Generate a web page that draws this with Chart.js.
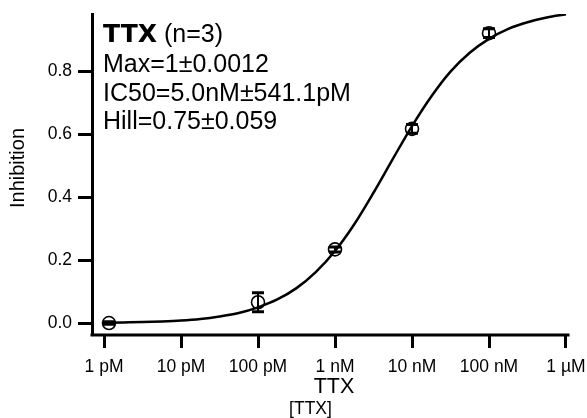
<!DOCTYPE html>
<html>
<head>
<meta charset="utf-8">
<script src="https://cdn.jsdelivr.net/npm/chart.js@4.4.1/dist/chart.umd.min.js"></script>
<style>
  html, body { margin: 0; padding: 0; background: #fff; }
  #wrap { width: 587px; height: 418px; position: relative; }
</style>
</head>
<body>
<div id="wrap"><canvas id="doseChart"></canvas></div>
<script>
// ===== DATA =====
const xTickValues = [1e-12, 1e-11, 1e-10, 1e-9, 1e-8, 1e-7, 1e-6];
const xTickLabels = ["1 pM", "10 pM", "100 pM", "1 nM", "10 nM", "100 nM", "1 \u00b5M"];
const yTickValues = [0, 0.2, 0.4, 0.6, 0.8];

// measured points (mean +/- error)
const doseConc = [1.16e-12, 1e-10, 1e-9, 1e-8, 1e-7];
const meanInhibition = [0.001, 0.067, 0.235, 0.618, 0.922];
const errInhibition = [0.004, 0.03, 0.008, 0.014, 0.014];

// fitted curve, every quarter decade
const fitConc = [
  1e-12, 1.78e-12, 3.16e-12, 5.62e-12,
  1e-11, 1.78e-11, 3.16e-11, 5.62e-11,
  1e-10, 1.78e-10, 3.16e-10, 5.62e-10,
  1e-9, 1.78e-9, 3.16e-9, 5.62e-9,
  1e-8, 1.78e-8, 3.16e-8, 5.62e-8,
  1e-7, 1.78e-7, 3.16e-7, 5.62e-7,
  1e-6
];
const fitInhibition = [
  0.002, 0.003, 0.004, 0.006,
  0.009, 0.014, 0.022, 0.033,
  0.051, 0.076, 0.112, 0.163,
  0.230, 0.315, 0.415, 0.522,
  0.627, 0.721, 0.800, 0.860,
  0.904, 0.936, 0.957, 0.972,
  0.982
];

const yTitle = "Inhibition";
const xTitle = "TTX";
const xSubTitle = "[TTX]";
const boxTitle = "TTX";
const boxTitleRest = " (n=3)";
const boxLines = ["Max=1\u00b10.0012", "IC50=5.0nM\u00b1541.1pM", "Hill=0.75\u00b10.059"];

const FONT = "'Liberation Sans', Arial, sans-serif";

// ===== ERROR BARS + X AXIS LINE =====
const errorBars = {
  id: "errorBars",
  afterDatasetsDraw(chart) {
    const ctx = chart.ctx;
    const xs = chart.scales.x, ys = chart.scales.y;
    ctx.save();
    ctx.strokeStyle = "#000";
    doseConc.forEach((c, i) => {
      const px = xs.getPixelForValue(c);
      const top = ys.getPixelForValue(meanInhibition[i] + errInhibition[i]);
      const bot = ys.getPixelForValue(meanInhibition[i] - errInhibition[i]);
      ctx.lineWidth = 2;
      ctx.beginPath();
      ctx.moveTo(px, top);
      ctx.lineTo(px, bot);
      ctx.stroke();
      ctx.lineWidth = 3;
      ctx.beginPath();
      ctx.moveTo(px - 6, top); ctx.lineTo(px + 6, top);
      ctx.moveTo(px - 6, bot); ctx.lineTo(px + 6, bot);
      ctx.stroke();
    });
    // bottom axis line, only as long as the scale
    const yb = ys.getPixelForValue(ys.min);
    ctx.lineWidth = 3;
    ctx.beginPath();
    ctx.moveTo(xs.getPixelForValue(xs.min) - 1.5, yb);
    ctx.lineTo(xs.getPixelForValue(xs.max) + 1.5, yb);
    ctx.stroke();
    ctx.restore();
  }
};

// ===== TEXT (titles + fit results) =====
const texts = {
  id: "texts",
  afterDraw(chart) {
    const ctx = chart.ctx;
    const a = chart.chartArea;
    ctx.save();
    ctx.fillStyle = "#000";
    ctx.textBaseline = "alphabetic";
    ctx.textAlign = "left";
    const tx = a.left + 11;
    ctx.font = "bold 25px 'DejaVu Sans', sans-serif";
    ctx.fillText(boxTitle, tx, 42);
    const w = ctx.measureText(boxTitle).width;
    ctx.font = "25px " + FONT;
    ctx.fillText(boxTitleRest, tx + w, 42);
    boxLines.forEach((s, i) => ctx.fillText(s, tx, 72 + i * 28.7));

    ctx.textAlign = "center";
    ctx.textBaseline = "middle";
    ctx.font = "21.5px " + FONT;
    ctx.fillText(xTitle, 334, 387);
    ctx.font = "17.5px " + FONT;
    ctx.fillText(xSubTitle, 310.5, 409);

    ctx.translate(18.3, 168);
    ctx.rotate(-Math.PI / 2);
    ctx.font = "20px " + FONT;
    ctx.fillText(yTitle, 0, 0);
    ctx.restore();
  }
};

function noPad(scale) {
  scale.paddingLeft = 0; scale.paddingRight = 0;
  scale.paddingTop = 0; scale.paddingBottom = 0;
}

new Chart(document.getElementById("doseChart"), {
  type: "line",
  data: {
    datasets: [{
      label: "fit",
      data: fitConc.map((c, i) => ({ x: c, y: fitInhibition[i] })),
      borderColor: "#000",
      borderWidth: 2.5,
      pointRadius: 0,
      cubicInterpolationMode: "monotone",
      fill: false,
      order: 2
    }, {
      label: "TTX",
      data: doseConc.map((c, i) => ({ x: c, y: meanInhibition[i] })),
      showLine: false,
      pointStyle: "circle",
      pointRadius: 6.5,
      pointBorderWidth: 1.6,
      pointBorderColor: "#000",
      pointBackgroundColor: "rgba(0,0,0,0)",
      order: 1
    }]
  },
  options: {
    responsive: true,
    maintainAspectRatio: false,
    animation: false,
    layout: { autoPadding: false, padding: { top: 14, right: 19, bottom: 0, left: 0 } },
    plugins: {
      legend: { display: false },
      tooltip: { enabled: false }
    },
    scales: {
      x: {
        type: "logarithmic",
        bounds: "data",
        min: Math.pow(10, -12.156),
        max: Math.pow(10, -5.974),
        afterBuildTicks: s => { s.ticks = xTickValues.map(v => ({ value: v })); },
        afterFit: s => { s.height = 83; noPad(s); },
        border: { display: false },
        grid: { display: true, drawOnChartArea: false, drawTicks: true, tickLength: 13, tickWidth: 3, tickColor: "#000" },
        ticks: {
          autoSkip: false,
          maxRotation: 0,
          padding: 9,
          color: "#000",
          font: { family: FONT, size: 17.5 },
          callback: (v, i) => xTickLabels[i]
        }
      },
      y: {
        min: -0.037,
        max: 0.983,
        afterBuildTicks: s => { s.ticks = yTickValues.map(v => ({ value: v })); },
        afterFit: s => { s.width = 92; noPad(s); },
        border: { display: true, color: "#000", width: 3 },
        grid: { display: true, drawOnChartArea: false, drawTicks: true, tickLength: 14, tickWidth: 3, tickColor: "#000" },
        ticks: {
          padding: 6,
          color: "#000",
          font: { family: FONT, size: 17.5 },
          callback: v => v.toFixed(1)
        }
      }
    }
  },
  plugins: [errorBars, texts]
});
</script>
</body>
</html>
